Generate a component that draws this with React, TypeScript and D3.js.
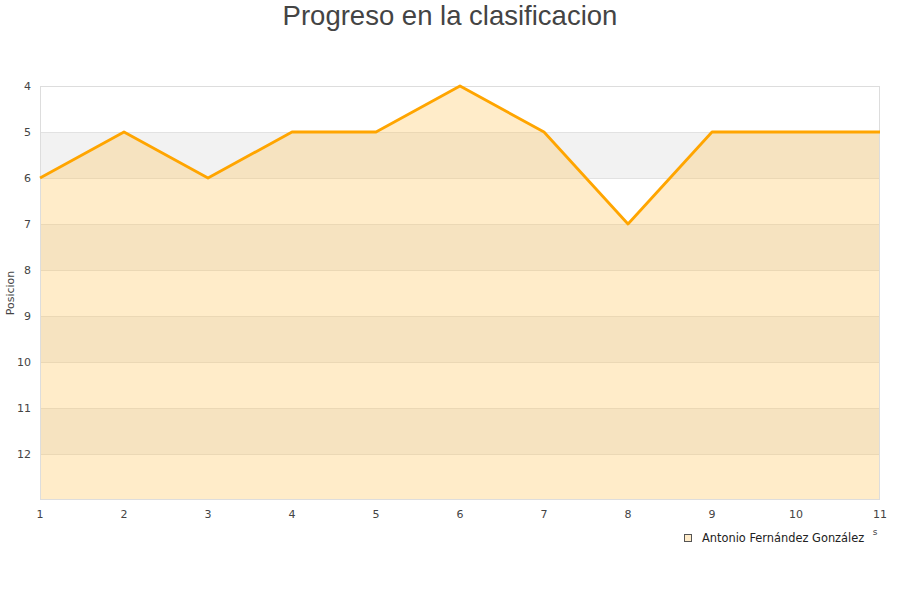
import { useEffect, useRef } from "react"
import * as d3 from "d3"

const jornadas = [1, 2, 3, 4, 5, 6, 7, 8, 9, 10, 11]
const posiciones = [6, 5, 6, 5, 5, 4, 5, 7, 5, 5, 5]
const yTicks = [4, 5, 6, 7, 8, 9, 10, 11, 12]
const jugador = "Antonio Fernández González"

const W = 900
const H = 600
const M = { top: 86, right: 20, bottom: 100, left: 40 }
const FONT = "DejaVu Sans, sans-serif"

export default function App() {
  const svgRef = useRef<SVGSVGElement>(null)

  useEffect(() => {
    if (!svgRef.current) return
    const svg = d3.select(svgRef.current)
    svg.selectAll("*").remove()

    const x = d3.scaleLinear().domain([1, 11]).range([M.left, W - M.right])
    const y = d3.scaleLinear().domain([4, 13]).range([M.top, H - M.bottom])

    // alternating bands
    const bands = d3.range(4, 13)
    svg.append("g")
      .selectAll("rect")
      .data(bands)
      .join("rect")
      .attr("x", M.left)
      .attr("y", (d) => y(d))
      .attr("width", W - M.left - M.right)
      .attr("height", y(1) - y(0))
      .attr("fill", (d) => (d % 2 === 0 ? "#ffffff" : "#f2f2f2"))

    // grid lines
    svg.append("g")
      .selectAll("line")
      .data(d3.range(5, 13))
      .join("line")
      .attr("x1", M.left)
      .attr("x2", W - M.right)
      .attr("y1", (d) => y(d) + 0.5)
      .attr("y2", (d) => y(d) + 0.5)
      .attr("stroke", "#e2e2e2")

    const pts = jornadas.map((j, i) => [j, posiciones[i]] as [number, number])

    const area = d3.area<[number, number]>()
      .x((d) => x(d[0]))
      .y0(y(13))
      .y1((d) => y(d[1]))
    svg.append("path")
      .attr("d", area(pts)!)
      .attr("fill", "#ffc04d")
      .attr("fill-opacity", 0.3)

    // frame
    svg.append("rect")
      .attr("x", M.left + 0.5)
      .attr("y", M.top + 0.5)
      .attr("width", W - M.left - M.right - 1)
      .attr("height", y(13) - M.top - 1)
      .attr("fill", "none")
      .attr("stroke", "#dddddd")

    const line = d3.line<[number, number]>()
      .x((d) => x(d[0]))
      .y((d) => y(d[1]))
    svg.append("path")
      .attr("d", line(pts)!)
      .attr("fill", "none")
      .attr("stroke", "#ffa500")
      .attr("stroke-width", 2.8)
      .attr("stroke-linejoin", "round")

    // y tick labels
    svg.append("g")
      .selectAll("text")
      .data(yTicks)
      .join("text")
      .attr("x", 31)
      .attr("y", (d) => y(d) + 4)
      .attr("text-anchor", "end")
      .attr("font-family", FONT)
      .attr("font-size", 11)
      .attr("fill", "#444")
      .text((d) => d)

    // x tick labels
    svg.append("g")
      .selectAll("text")
      .data(jornadas)
      .join("text")
      .attr("x", (d) => x(d))
      .attr("y", 518)
      .attr("text-anchor", "middle")
      .attr("font-family", FONT)
      .attr("font-size", 11)
      .attr("fill", "#444")
      .text((d) => d)

    // title
    svg.append("text")
      .attr("x", W / 2)
      .attr("y", 25)
      .attr("text-anchor", "middle")
      .attr("font-family", "Liberation Sans, Arial, sans-serif")
      .attr("font-size", 27.5)
      .attr("fill", "#444")
      .text("Progreso en la clasificacion")

    // y label
    svg.append("text")
      .attr("transform", `translate(14,${293}) rotate(-90)`)
      .attr("text-anchor", "middle")
      .attr("font-family", FONT)
      .attr("font-size", 11)
      .attr("fill", "#444")
      .text("Posicion")

    // leftover x title fragment
    svg.append("text")
      .attr("x", 875)
      .attr("y", 535)
      .attr("text-anchor", "middle")
      .attr("font-family", FONT)
      .attr("font-size", 9)
      .attr("fill", "#444")
      .text("s")

    // legend
    const lg = svg.append("g").attr("transform", "translate(684,534)")
    lg.append("rect")
      .attr("x", 0.5)
      .attr("y", 0.5)
      .attr("width", 7)
      .attr("height", 7)
      .attr("fill", "#ffecca")
      .attr("stroke", "#555")
    lg.append("text")
      .attr("x", 18)
      .attr("y", 8)
      .attr("font-family", FONT)
      .attr("font-size", 11.4)
      .attr("fill", "#222")
      .text(jugador)
  }, [])

  return (
    <svg
      ref={svgRef}
      width={W}
      height={H}
      style={{ position: "absolute", left: 0, top: 0, background: "#fff" }}
    />
  )
}
